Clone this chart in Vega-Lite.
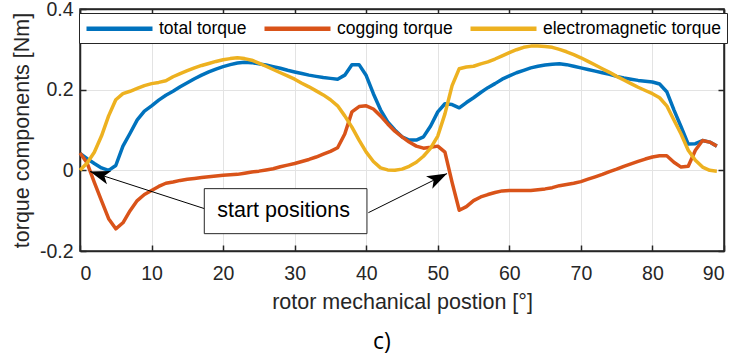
{
  "$schema": "https://vega.github.io/schema/vega-lite/v6.json",
  "width": 644,
  "height": 242,
  "autosize": {"type": "none"},
  "padding": {"left": 80, "top": 9, "right": 12, "bottom": 105},
  "background": "white",
  "config": {
    "view": {"stroke": "#262626", "strokeWidth": 1.5},
    "axis": {
      "labelFont": "Liberation Sans", "labelFontSize": 19.5, "labelColor": "#262626",
      "titleFont": "Liberation Sans", "titleFontSize": 21.5, "titleFontWeight": "normal", "titleColor": "#262626",
      "domainColor": "#262626", "domainWidth": 1.5, "tickColor": "#262626", "tickWidth": 1.5,
      "gridColor": "#e3e3e3", "gridWidth": 1
    }
  },
  "title": {"text": "c)", "orient": "bottom", "font": "Open Sans", "fontSize": 23, "fontWeight": "normal", "color": "#000000", "offset": 18, "dx": -20},
  "layer": [
    {
      "data": {"values": [
        {"pos": 0, "total torque": 0.042, "cogging torque": 0.043, "electromagnetic torque": 0.0},
        {"pos": 1, "total torque": 0.029, "cogging torque": 0.018, "electromagnetic torque": 0.018},
        {"pos": 2, "total torque": 0.017, "cogging torque": -0.03, "electromagnetic torque": 0.045},
        {"pos": 3, "total torque": 0.006, "cogging torque": -0.075, "electromagnetic torque": 0.085},
        {"pos": 4, "total torque": 0.0, "cogging torque": -0.12, "electromagnetic torque": 0.135},
        {"pos": 5, "total torque": 0.012, "cogging torque": -0.145, "electromagnetic torque": 0.175},
        {"pos": 6, "total torque": 0.06, "cogging torque": -0.13, "electromagnetic torque": 0.19},
        {"pos": 7, "total torque": 0.092, "cogging torque": -0.1, "electromagnetic torque": 0.196},
        {"pos": 8, "total torque": 0.125, "cogging torque": -0.075, "electromagnetic torque": 0.203},
        {"pos": 9, "total torque": 0.147, "cogging torque": -0.06, "electromagnetic torque": 0.21},
        {"pos": 10, "total torque": 0.16, "cogging torque": -0.05, "electromagnetic torque": 0.215},
        {"pos": 11, "total torque": 0.174, "cogging torque": -0.04, "electromagnetic torque": 0.218},
        {"pos": 12, "total torque": 0.186, "cogging torque": -0.032, "electromagnetic torque": 0.222},
        {"pos": 13, "total torque": 0.196, "cogging torque": -0.029, "electromagnetic torque": 0.232},
        {"pos": 14, "total torque": 0.207, "cogging torque": -0.025, "electromagnetic torque": 0.24},
        {"pos": 15, "total torque": 0.217, "cogging torque": -0.022, "electromagnetic torque": 0.247},
        {"pos": 16, "total torque": 0.227, "cogging torque": -0.02, "electromagnetic torque": 0.254},
        {"pos": 17, "total torque": 0.236, "cogging torque": -0.018, "electromagnetic torque": 0.26},
        {"pos": 18, "total torque": 0.244, "cogging torque": -0.016, "electromagnetic torque": 0.265},
        {"pos": 19, "total torque": 0.251, "cogging torque": -0.014, "electromagnetic torque": 0.27},
        {"pos": 20, "total torque": 0.257, "cogging torque": -0.012, "electromagnetic torque": 0.274},
        {"pos": 21, "total torque": 0.262, "cogging torque": -0.011, "electromagnetic torque": 0.277},
        {"pos": 22, "total torque": 0.266, "cogging torque": -0.01, "electromagnetic torque": 0.279},
        {"pos": 23, "total torque": 0.268, "cogging torque": -0.007, "electromagnetic torque": 0.277},
        {"pos": 24, "total torque": 0.267, "cogging torque": -0.004, "electromagnetic torque": 0.273},
        {"pos": 25, "total torque": 0.264, "cogging torque": -0.002, "electromagnetic torque": 0.266},
        {"pos": 26, "total torque": 0.261, "cogging torque": 0.001, "electromagnetic torque": 0.258},
        {"pos": 27, "total torque": 0.257, "cogging torque": 0.004, "electromagnetic torque": 0.25},
        {"pos": 28, "total torque": 0.253, "cogging torque": 0.009, "electromagnetic torque": 0.242},
        {"pos": 29, "total torque": 0.248, "cogging torque": 0.013, "electromagnetic torque": 0.234},
        {"pos": 30, "total torque": 0.244, "cogging torque": 0.017, "electromagnetic torque": 0.226},
        {"pos": 31, "total torque": 0.24, "cogging torque": 0.022, "electromagnetic torque": 0.216},
        {"pos": 32, "total torque": 0.236, "cogging torque": 0.027, "electromagnetic torque": 0.207},
        {"pos": 33, "total torque": 0.233, "cogging torque": 0.033, "electromagnetic torque": 0.197},
        {"pos": 34, "total torque": 0.23, "cogging torque": 0.04, "electromagnetic torque": 0.187},
        {"pos": 35, "total torque": 0.228, "cogging torque": 0.047, "electromagnetic torque": 0.175},
        {"pos": 36, "total torque": 0.226, "cogging torque": 0.056, "electromagnetic torque": 0.16},
        {"pos": 37, "total torque": 0.236, "cogging torque": 0.09, "electromagnetic torque": 0.135},
        {"pos": 38, "total torque": 0.262, "cogging torque": 0.145, "electromagnetic torque": 0.107},
        {"pos": 39, "total torque": 0.262, "cogging torque": 0.158, "electromagnetic torque": 0.075},
        {"pos": 40, "total torque": 0.235, "cogging torque": 0.16, "electromagnetic torque": 0.045},
        {"pos": 41, "total torque": 0.19, "cogging torque": 0.152, "electromagnetic torque": 0.022},
        {"pos": 42, "total torque": 0.15, "cogging torque": 0.135, "electromagnetic torque": 0.006},
        {"pos": 43, "total torque": 0.12, "cogging torque": 0.115, "electromagnetic torque": 0.001},
        {"pos": 44, "total torque": 0.1, "cogging torque": 0.097, "electromagnetic torque": 0.0},
        {"pos": 45, "total torque": 0.083, "cogging torque": 0.083, "electromagnetic torque": 0.003},
        {"pos": 46, "total torque": 0.075, "cogging torque": 0.07, "electromagnetic torque": 0.01},
        {"pos": 47, "total torque": 0.075, "cogging torque": 0.06, "electromagnetic torque": 0.02},
        {"pos": 48, "total torque": 0.083, "cogging torque": 0.055, "electromagnetic torque": 0.035},
        {"pos": 49, "total torque": 0.11, "cogging torque": 0.057, "electromagnetic torque": 0.055},
        {"pos": 50, "total torque": 0.145, "cogging torque": 0.06, "electromagnetic torque": 0.085},
        {"pos": 51, "total torque": 0.165, "cogging torque": 0.045, "electromagnetic torque": 0.14},
        {"pos": 52, "total torque": 0.163, "cogging torque": -0.03, "electromagnetic torque": 0.21},
        {"pos": 53, "total torque": 0.155, "cogging torque": -0.099, "electromagnetic torque": 0.252},
        {"pos": 54, "total torque": 0.168, "cogging torque": -0.09, "electromagnetic torque": 0.256},
        {"pos": 55, "total torque": 0.18, "cogging torque": -0.075, "electromagnetic torque": 0.258},
        {"pos": 56, "total torque": 0.193, "cogging torque": -0.066, "electromagnetic torque": 0.264},
        {"pos": 57, "total torque": 0.205, "cogging torque": -0.06, "electromagnetic torque": 0.269},
        {"pos": 58, "total torque": 0.215, "cogging torque": -0.055, "electromagnetic torque": 0.276},
        {"pos": 59, "total torque": 0.226, "cogging torque": -0.051, "electromagnetic torque": 0.284},
        {"pos": 60, "total torque": 0.234, "cogging torque": -0.05, "electromagnetic torque": 0.292},
        {"pos": 61, "total torque": 0.242, "cogging torque": -0.05, "electromagnetic torque": 0.299},
        {"pos": 62, "total torque": 0.248, "cogging torque": -0.05, "electromagnetic torque": 0.305},
        {"pos": 63, "total torque": 0.254, "cogging torque": -0.05, "electromagnetic torque": 0.308},
        {"pos": 64, "total torque": 0.258, "cogging torque": -0.048, "electromagnetic torque": 0.308},
        {"pos": 65, "total torque": 0.261, "cogging torque": -0.046, "electromagnetic torque": 0.307},
        {"pos": 66, "total torque": 0.263, "cogging torque": -0.043, "electromagnetic torque": 0.305},
        {"pos": 67, "total torque": 0.264, "cogging torque": -0.038, "electromagnetic torque": 0.3},
        {"pos": 68, "total torque": 0.262, "cogging torque": -0.035, "electromagnetic torque": 0.294},
        {"pos": 69, "total torque": 0.258, "cogging torque": -0.032, "electromagnetic torque": 0.287},
        {"pos": 70, "total torque": 0.254, "cogging torque": -0.028, "electromagnetic torque": 0.279},
        {"pos": 71, "total torque": 0.25, "cogging torque": -0.022, "electromagnetic torque": 0.27},
        {"pos": 72, "total torque": 0.246, "cogging torque": -0.016, "electromagnetic torque": 0.261},
        {"pos": 73, "total torque": 0.242, "cogging torque": -0.01, "electromagnetic torque": 0.252},
        {"pos": 74, "total torque": 0.238, "cogging torque": -0.003, "electromagnetic torque": 0.243},
        {"pos": 75, "total torque": 0.233, "cogging torque": 0.003, "electromagnetic torque": 0.233},
        {"pos": 76, "total torque": 0.229, "cogging torque": 0.01, "electromagnetic torque": 0.224},
        {"pos": 77, "total torque": 0.226, "cogging torque": 0.016, "electromagnetic torque": 0.215},
        {"pos": 78, "total torque": 0.223, "cogging torque": 0.022, "electromagnetic torque": 0.206},
        {"pos": 79, "total torque": 0.221, "cogging torque": 0.028, "electromagnetic torque": 0.198},
        {"pos": 80, "total torque": 0.219, "cogging torque": 0.033, "electromagnetic torque": 0.19},
        {"pos": 81, "total torque": 0.214, "cogging torque": 0.036, "electromagnetic torque": 0.18},
        {"pos": 82, "total torque": 0.195, "cogging torque": 0.036, "electromagnetic torque": 0.16},
        {"pos": 83, "total torque": 0.15, "cogging torque": 0.02, "electromagnetic torque": 0.125},
        {"pos": 84, "total torque": 0.108, "cogging torque": 0.008, "electromagnetic torque": 0.09},
        {"pos": 85, "total torque": 0.065, "cogging torque": 0.01, "electromagnetic torque": 0.05},
        {"pos": 86, "total torque": 0.066, "cogging torque": 0.05, "electromagnetic torque": 0.025},
        {"pos": 87, "total torque": 0.074, "cogging torque": 0.074, "electromagnetic torque": 0.008},
        {"pos": 88, "total torque": 0.07, "cogging torque": 0.07, "electromagnetic torque": 0.0},
        {"pos": 89, "total torque": 0.06, "cogging torque": 0.06, "electromagnetic torque": -0.002}
      ]},
      "transform": [{"fold": ["total torque", "cogging torque", "electromagnetic torque"], "as": ["series", "torque"]}],
      "mark": {"type": "line", "strokeWidth": 3.5, "strokeJoin": "round"},
      "encoding": {
        "x": {"field": "pos", "type": "quantitative", "scale": {"domain": [0, 90], "nice": false},
          "axis": {"orient": "bottom", "values": [0, 10, 20, 30, 40, 50, 60, 70, 80, 90], "tickSize": -6, "labelPadding": 19, "title": "rotor mechanical postion [°]", "titlePadding": 9, "grid": true}},
        "y": {"field": "torque", "type": "quantitative", "scale": {"domain": [-0.2, 0.4], "nice": false},
          "axis": {"orient": "left", "values": [-0.2, 0, 0.2, 0.4], "tickSize": -6, "labelPadding": 13, "title": "torque components [Nm]", "titlePadding": 6, "grid": true,
            "labelExpr": "datum.value == 0 ? '0' : datum.value < 0 ? '-' + format(-datum.value, '.1f') : format(datum.value, '.1f')"}},
        "color": {"field": "series", "type": "nominal",
          "scale": {"domain": ["total torque", "cogging torque", "electromagnetic torque"], "range": ["#0072BD", "#D95319", "#EDB120"]},
          "legend": {"orient": "none", "legendX": -1, "legendY": 4, "direction": "horizontal", "title": null,
            "symbolType": "M-1,0L7.25,0", "symbolSize": 256, "symbolStrokeWidth": 4.5,
            "labelFont": "Liberation Sans", "labelFontSize": 17.5, "labelColor": "#000000", "labelOffset": 54, "labelLimit": 400,
            "gridAlign": "each", "columnPadding": 8, "padding": 5, "fillColor": "white", "strokeColor": "#262626"}}
      }
    },
    {
      "data": {"values": [
        {"ax": 17.4, "ay": -0.095, "bx": 1.4, "by": -0.003},
        {"ax": 40.3, "ay": -0.105, "bx": 51.3, "by": -0.008}
      ]},
      "mark": {"type": "rule", "color": "#000000", "strokeWidth": 1},
      "encoding": {
        "x": {"field": "ax", "type": "quantitative",
          "axis": {"orient": "top", "values": [0, 10, 20, 30, 40, 50, 60, 70, 80, 90], "labels": false, "title": null, "grid": false, "tickSize": -6}},
        "y": {"field": "ay", "type": "quantitative",
          "axis": {"orient": "right", "values": [-0.2, 0, 0.2, 0.4], "labels": false, "title": null, "grid": false, "tickSize": -6}},
        "x2": {"field": "bx"},
        "y2": {"field": "by"}
      }
    },
    {
      "data": {"values": [{"tx": 1.4, "ty": -0.003}]},
      "mark": {"type": "point", "shape": "M0,0L-2,-0.7L-1.5,0L-2,0.7Z", "size": 400, "filled": true, "color": "#000000", "opacity": 1, "angle": 197.6},
      "encoding": {"x": {"field": "tx", "type": "quantitative", "axis": null}, "y": {"field": "ty", "type": "quantitative", "axis": null}}
    },
    {
      "data": {"values": [{"tx": 51.3, "ty": -0.008}]},
      "mark": {"type": "point", "shape": "M0,0L-2,-0.7L-1.5,0L-2,0.7Z", "size": 400, "filled": true, "color": "#000000", "opacity": 1, "angle": 333.5},
      "encoding": {"x": {"field": "tx", "type": "quantitative", "axis": null}, "y": {"field": "ty", "type": "quantitative", "axis": null}}
    },
    {
      "data": {"values": [{"x1": 17.37, "x2": 40.1, "y1": -0.0454, "y2": -0.157}]},
      "mark": {"type": "rect", "fill": "white", "stroke": "#262626", "strokeWidth": 1},
      "encoding": {
        "x": {"field": "x1", "type": "quantitative", "axis": null}, "x2": {"field": "x2"},
        "y": {"field": "y1", "type": "quantitative", "axis": null}, "y2": {"field": "y2"}
      }
    },
    {
      "data": {"values": [{"tx": 28.45, "ty": -0.1017, "label": "start positions"}]},
      "mark": {"type": "text", "font": "Liberation Sans", "fontSize": 21.5, "color": "#000000", "align": "center", "baseline": "middle"},
      "encoding": {"x": {"field": "tx", "type": "quantitative", "axis": null}, "y": {"field": "ty", "type": "quantitative", "axis": null}, "text": {"field": "label"}}
    }
  ]
}
